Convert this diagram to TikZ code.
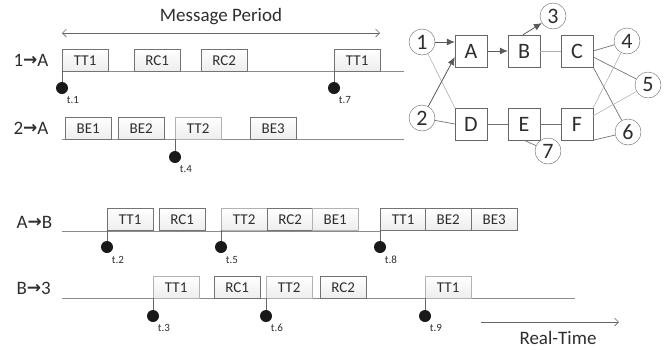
\documentclass[tikz,border=0pt]{standalone}
\usepackage{fontspec}
\setmainfont{Carlito}
\newfontfamily\arrowfont{DejaVu Sans}
\usetikzlibrary{shadows,arrows.meta}
\newcommand\sendarrow{{\arrowfont\bfseries\fontsize{17}{17}\selectfont\raisebox{0.5pt}{→}}}

\tikzset{
  ink/.style={text=black!82},
  slot/.style={draw=black!55, top color=white, bottom color=black!7,
    minimum width=46pt, minimum height=22pt, inner sep=0pt, anchor=north west,
    font=\fontsize{15}{15}\selectfont, ink,
    drop shadow={shadow xshift=1.2pt, shadow yshift=-1.2pt, opacity=0.3, fill=black!70}},
  soft/.style={slot, draw=black!30},
  track/.style={draw=black!45, line width=0.6pt},
  stem/.style={draw=black!60, line width=0.6pt},
  tick/.style={circle, fill=black!90, minimum size=12pt, inner sep=0pt},
  tlab/.style={font=\fontsize{11}{11}\selectfont, ink},
  rowlab/.style={font=\fontsize{19}{19}\selectfont, ink, anchor=west},
  sw/.style={draw=black!60, fill=white, minimum size=32pt, inner sep=0pt,
    font=\fontsize{22}{22}\selectfont, ink},
  ep/.style={circle, draw=black!60, fill=white, minimum size=26pt, inner sep=0pt,
    font=\fontsize{22}{22}\selectfont, ink},
  link/.style={draw=black!55, line width=0.7pt},
  thin/.style={draw=black!30, line width=0.6pt},
  flow/.style={draw=black!65, line width=0.8pt, -{Latex[length=8pt,width=7pt]}},
  span/.style={draw=black!60, line width=0.6pt, {Straight Barb[length=4pt,width=8pt]}-{Straight Barb[length=4pt,width=8pt]}},
}

\begin{document}
\begin{tikzpicture}[x=1pt,y=-1pt]
\useasboundingbox (0,0) rectangle (667,349);

% ---------- message period ----------
\coordinate (mp1) at (62,33);
\coordinate (mp2) at (380,33);
\draw[span] (mp1) -- (mp2);
\node[ink, font=\fontsize{19}{19}\selectfont] (mptxt) at (221,17) {Message Period};

% ---------- row 1 -> A ----------
\node[rowlab] (r1) at (10,60) {1\sendarrow A};
\coordinate (t1a) at (62,71); \coordinate (t1b) at (404,71);
\draw[track] (t1a) -- (t1b);
\node[slot] (a1) at (62,49) {TT1};
\node[slot] (a2) at (134,49) {RC1};
\node[slot] (a3) at (201,49) {RC2};
\node[slot] (a4) at (334,49) {TT1};
\node[tick] (d1) at (62,88) {};
\node[tick] (d7) at (334,88) {};
\draw[stem] (a1.south west) -- (d1);
\draw[stem] (a4.south west) -- (d7);
\node[tlab] (l1) at (73,100) {t.1};
\node[tlab] (l7) at (345,100) {t.7};

% ---------- row 2 -> A ----------
\node[rowlab] (r2) at (10,128) {2\sendarrow A};
\coordinate (t2a) at (62,139); \coordinate (t2b) at (404,139);
\draw[track] (t2a) -- (t2b);
\node[slot] (b1) at (65,117) {BE1};
\node[slot] (b2) at (118,117) {BE2};
\node[soft] (b3) at (175,117) {TT2};
\node[slot] (b4) at (250,117) {BE3};
\node[tick] (d4) at (175,157) {};
\draw[stem] (b3.south west) -- (d4);
\node[tlab] (l4) at (186,169) {t.4};

% ---------- row A -> B ----------
\node[rowlab] (r3) at (13,222) {A\sendarrow B};
\coordinate (t3a) at (62,231); \coordinate (t3b) at (380,231);
\draw[track] (t3a) -- (t3b);
\node[slot] (c1) at (107,208) {TT1};
\node[slot] (c2) at (159,208) {RC1};
\node[soft] (c3) at (221,208) {TT2};
\node[slot] (c4) at (267,208) {RC2};
\node[soft] (c5) at (312,208) {BE1};
\node[slot] (c6) at (380,208) {TT1};
\node[slot] (c7) at (425,208) {BE2};
\node[slot] (c8) at (471,208) {BE3};
\node[tick] (d2) at (107,247) {};
\node[tick] (d5) at (221,247) {};
\node[tick] (d8) at (380,247) {};
\draw[stem] (c1.south west) -- (d2);
\draw[stem] (c3.south west) -- (d5);
\draw[stem] (c6.south west) -- (d8);
\node[tlab] (l2) at (118,260) {t.2};
\node[tlab] (l5) at (232,260) {t.5};
\node[tlab] (l8) at (391,260) {t.8};

% ---------- row B -> 3 ----------
\node[rowlab] (r4) at (13,288) {B\sendarrow 3};
\coordinate (t4a) at (62,298); \coordinate (t4b) at (575,298);
\draw[track] (t4a) -- (t4b);
\node[soft] (e1) at (153,276) {TT1};
\node[slot] (e2) at (214,276) {RC1};
\node[soft] (e3) at (266,276) {TT2};
\node[slot] (e4) at (320,276) {RC2};
\node[soft] (e5) at (425,276) {TT1};
\node[tick] (d3) at (153,316) {};
\node[tick] (d6) at (266,316) {};
\node[tick] (d9) at (425,316) {};
\draw[stem] (e1.south west) -- (d3);
\draw[stem] (e3.south west) -- (d6);
\draw[stem] (e5.south west) -- (d9);
\node[tlab] (l3) at (164,328) {t.3};
\node[tlab] (l6) at (277,328) {t.6};
\node[tlab] (l9) at (436,328) {t.9};

% ---------- real-time axis ----------
\coordinate (rt1) at (481,322);
\coordinate (rt2) at (619,322);
\draw[draw=black!60, line width=0.6pt, -{Straight Barb[length=4pt,width=8pt]}] (rt1) -- (rt2);
\node[ink, font=\fontsize{19}{19}\selectfont] (rttxt) at (558,338) {Real-Time};

% ---------- network ----------
\node[sw] (A) at (471,51) {A};
\node[sw] (B) at (524,51) {B};
\node[sw] (C) at (577,51) {C};
\node[sw] (D) at (471,124) {D};
\node[sw] (E) at (524,124) {E};
\node[sw] (F) at (577,124) {F};
\node[ep] (n1) at (422,42) {1};
\node[ep] (n2) at (422,118) {2};
\node[ep] (n3) at (553,16) {3};
\node[ep] (n4) at (627,41) {4};
\node[ep] (n5) at (648,85) {5};
\node[ep] (n6) at (628,132) {6};
\node[ep] (n7) at (548,151) {7};

\draw[thin] (n1) -- (D.north west);
\draw[link] (n2) -- (D.west);
\draw[thin] (B) -- (C);
\draw[link] (D) -- (E);
\draw[link] (E) -- (F);
\draw[link] (E.south) -- (n7);
\draw[link] (C.east) -- (n4);
\draw[link] ([yshift=-6pt]C.east) -- (n5);
\draw[link] (C.south east) -- (n6);
\draw[thin] (F.north east) -- (n4);
\draw[thin] ([yshift=-8pt]F.north east) -- (n5);
\draw[link] (F.south east) -- (n6);
\draw[flow] (n1) -- (A.west |- n1.east);
\draw[flow] (n2) -- ([yshift=-6pt]A.west);
\draw[flow] (A) -- (B);
\draw[flow] ([xshift=-1pt]B.north) -- (n3);
\end{tikzpicture}
\end{document}
